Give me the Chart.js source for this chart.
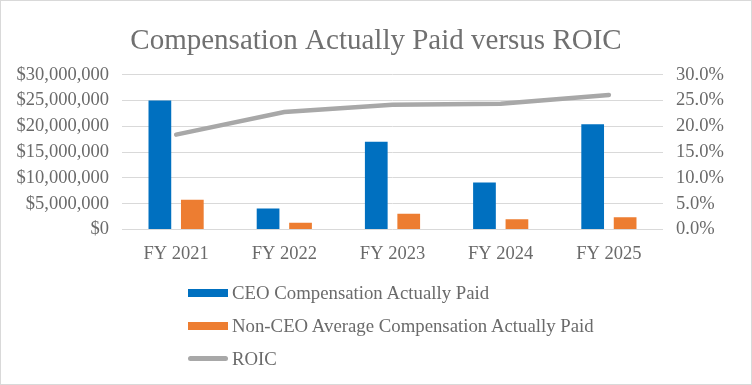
<!DOCTYPE html>
<html>
<head>
<meta charset="utf-8">
<script src="https://cdn.jsdelivr.net/npm/chart.js@4.4.1/dist/chart.umd.min.js"></script>
<style>
  html, body { margin: 0; padding: 0; background: #fff; }
  #wrap { position: relative; width: 752px; height: 385px; }
  #frame { position: absolute; left: 0; top: 0; width: 752px; height: 385px; box-sizing: border-box; border: 1px solid #d9d9d9; pointer-events: none; }
  #legend { position: absolute; left: 188px; top: 277px; font-family: 'Liberation Serif', serif; font-size: 18.8px; color: #6a6a6a; }
  .leg-item { display: flex; align-items: center; height: 32.7px; }
  .leg-box { width: 40px; margin-right: 4px; }
</style>
</head>
<body>
<div id="wrap">
  <canvas id="chart" width="752" height="385"></canvas>
  <div id="legend"></div>
  <div id="frame"></div>
</div>
<script>
const categories = ['FY 2021', 'FY 2022', 'FY 2023', 'FY 2024', 'FY 2025'];
const ceoPay = [25000000, 4050000, 17000000, 9100000, 20400000];
const nonCeoPay = [5750000, 1330000, 3070000, 1980000, 2370000];
const roic = [18.4, 22.8, 24.2, 24.4, 26.1];

const textGray = '#6a6a6a';
const serif = 'Liberation Serif';

const config = {
  type: 'bar',
  data: {
    labels: categories,
    datasets: [
      {
        label: 'CEO Compensation Actually Paid',
        data: ceoPay,
        backgroundColor: '#0070c0',
        yAxisID: 'y',
        order: 1,
        categoryPercentage: 0.6,
        barPercentage: 0.7
      },
      {
        label: 'Non-CEO Average Compensation Actually Paid',
        data: nonCeoPay,
        backgroundColor: '#ed7d31',
        yAxisID: 'y',
        order: 1,
        categoryPercentage: 0.6,
        barPercentage: 0.7
      },
      {
        type: 'line',
        label: 'ROIC',
        data: roic,
        borderColor: '#a8a8a8',
        backgroundColor: '#a8a8a8',
        borderWidth: 4.5,
        borderCapStyle: 'round',
        pointRadius: 0,
        tension: 0,
        yAxisID: 'y1',
        order: 0
      }
    ]
  },
  options: {
    responsive: false,
    animation: false,
    layout: { padding: { left: 0, right: 0, top: 0, bottom: 125.5 } },
    scales: {
      x: {
        grid: { display: false },
        border: { display: false },
        ticks: { color: textGray, font: { family: serif, size: 18.5 }, padding: 6 },
        afterFit: function(scale) { scale.height = 30; }
      },
      y: {
        position: 'left',
        min: 0,
        max: 30000000,
        ticks: {
          stepSize: 5000000,
          color: textGray,
          font: { family: serif, size: 18.5 },
          padding: 13,
          callback: function(v) { return '$' + v.toLocaleString('en-US'); }
        },
        grid: { color: '#d9d9d9', lineWidth: 1, drawTicks: false },
        border: { display: false },
        afterFit: function(scale) { scale.width = 122; }
      },
      y1: {
        position: 'right',
        min: 0,
        max: 30,
        ticks: {
          stepSize: 5,
          color: textGray,
          font: { family: serif, size: 18.5 },
          padding: 13,
          callback: function(v) { return v.toFixed(1) + '%'; }
        },
        grid: { display: false, drawTicks: false },
        border: { display: false },
        afterFit: function(scale) { scale.width = 89; }
      }
    },
    plugins: {
      legend: { display: false },
      tooltip: { enabled: false },
      title: {
        display: true,
        text: 'Compensation Actually Paid versus ROIC',
        color: '#707070',
        font: { family: serif, size: 29, weight: 'normal' },
        padding: { top: 24, bottom: 16 }
      }
    }
  }
};

const chart = new Chart(document.getElementById('chart'), config);

// legend stacked one item per row, like the original
let legendHTML = '';
chart.data.datasets.forEach(ds => {
  const isLine = ds.type === 'line';
  const sw = isLine
    ? `<span class="leg-box" style="height:4.5px;border-radius:3px;background:${ds.borderColor}"></span>`
    : `<span class="leg-box" style="height:8px;background:${ds.backgroundColor}"></span>`;
  legendHTML += `<div class="leg-item">${sw}<span>${ds.label}</span></div>`;
});
document.getElementById('legend').innerHTML = legendHTML;
</script>
</body>
</html>
